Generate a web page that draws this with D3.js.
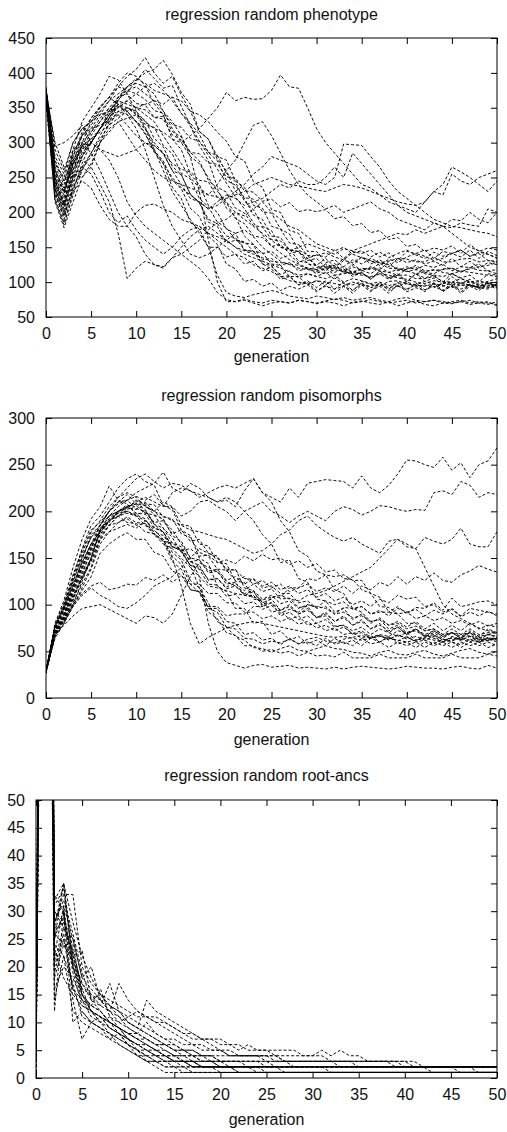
<!DOCTYPE html>
<html><head><meta charset="utf-8">
<script src="https://cdn.jsdelivr.net/npm/d3@7"></script>
<style>
body{margin:0;background:#fff}
svg{display:block}
text{font-family:"Liberation Sans",Arial,Helvetica,sans-serif;fill:#111}
</style>
</head><body>
<svg id="chart" width="507" height="1132"></svg>
<script>
// ---------- data ----------
const xTicks = [0,5,10,15,20,25,30,35,40,45,50];
const phenotypeTicks = [50,100,150,200,250,300,350,400,450];
const pisomorphTicks = [0,50,100,150,200,250,300];
const rootAncTicks = [0,5,10,15,20,25,30,35,40,45,50];

const phenotypeSeries = [
[375,228,190,240,280,300,320,340,362,372,388,405,392,378,382,352,325,302,282,262,242,222,205,185,168,152,142,132,126,120,118,126,121,131,128,136,131,124,133,128,136,141,137,131,134,141,146,137,143,140,134],
[360,262,230,270,295,300,290,275,250,215,195,180,170,160,150,140,130,120,105,85,75,72,74,70,66,70,72,70,74,72,69,72,70,66,71,73,70,68,72,66,70,73,68,66,70,69,72,68,70,72,66],
[378,245,215,260,300,330,350,365,380,395,405,422,400,385,395,368,345,316,305,276,260,230,220,196,190,166,164,146,144,126,124,116,127,113,122,117,112,121,114,110,119,121,114,112,119,120,115,119,122,124,128],
[374,220,185,230,270,300,320,340,365,380,390,400,405,418,398,372,355,316,305,280,275,245,236,210,206,180,176,156,154,138,138,142,136,132,142,145,136,143,135,141,146,139,134,143,137,141,146,137,141,131,130],
[370,280,255,300,320,330,345,330,340,350,345,330,320,315,305,300,310,320,335,350,372,360,365,362,363,375,397,380,378,350,320,300,285,270,255,240,235,225,215,210,205,200,215,230,240,265,258,250,240,230,245],
[373,300,265,270,290,300,320,340,355,360,350,340,330,310,290,270,250,235,225,240,260,275,300,325,330,310,285,260,240,225,215,205,210,200,205,210,215,205,200,190,185,180,175,185,180,190,188,200,190,185,200],
[377,240,205,250,290,315,335,350,340,325,310,300,290,270,250,235,225,215,205,210,220,230,240,255,265,280,275,270,265,255,245,240,250,298,297,296,280,265,245,230,220,210,200,190,185,180,178,175,172,170,165],
[365,215,178,215,250,270,300,330,355,345,330,320,300,285,260,240,220,215,205,215,225,220,210,215,220,230,240,235,245,240,240,250,265,250,285,270,255,240,225,210,200,195,190,185,180,170,160,150,145,140,135],
[375,255,230,270,275,265,240,215,170,105,120,130,125,122,135,140,150,160,175,185,190,200,195,205,215,200,190,180,175,165,155,150,145,150,140,135,130,128,125,120,115,118,112,110,108,112,105,100,102,98,95],
[374,270,250,290,300,285,260,230,200,180,165,140,125,120,135,150,165,175,180,170,160,150,140,135,130,125,120,115,110,112,108,105,110,100,105,102,98,100,95,98,100,96,94,98,95,92,96,95,92,90,98],
[372,235,200,230,245,235,210,190,180,180,200,210,212,205,200,190,185,180,170,160,150,140,135,125,120,115,108,102,100,98,102,100,98,95,100,96,94,98,92,95,98,94,96,92,98,100,95,97,93,92,95],
[376,250,225,290,330,350,370,395,390,370,345,322,296,284,260,254,226,214,190,184,166,164,146,144,132,134,124,128,116,120,112,120,110,112,114,112,106,112,104,110,110,105,105,108,101,100,105,101,98,101,105],
[380,265,240,285,310,320,325,330,345,350,340,320,290,260,230,210,190,170,150,110,85,80,78,82,85,88,85,80,78,76,80,78,75,78,74,76,78,74,72,76,78,74,72,74,70,72,74,70,72,70,68],
[375,235,200,245,280,310,330,350,365,375,380,370,360,345,330,310,280,230,160,100,72,72,76,72,70,74,72,70,74,72,70,73,76,74,70,72,75,72,70,72,74,70,72,74,72,70,72,74,70,68,72],
[377,260,235,275,300,315,330,345,360,380,392,385,375,370,365,360,345,340,330,315,302,280,274,244,236,204,200,174,170,144,144,128,132,122,132,126,134,128,130,134,133,129,129,136,129,129,133,134,129,131,128],
[373,275,245,280,310,325,345,360,370,380,385,380,370,345,320,300,280,270,250,230,215,200,190,180,170,160,150,145,150,155,150,145,140,148,145,150,155,160,165,170,168,175,170,175,180,178,185,182,180,205,200],
[355,232,208,255,285,300,320,335,355,350,342,326,322,296,284,256,248,220,208,186,178,160,158,144,142,126,124,108,108,96,102,96,106,98,96,101,97,94,101,102,97,96,101,97,94,99,100,95,94,99,100],
[372,245,215,260,295,320,340,360,380,375,370,362,346,342,326,322,306,302,286,282,256,244,216,204,180,174,150,148,130,128,116,120,120,122,113,120,118,127,120,119,118,124,116,117,118,120,114,121,117,116,112],
[376,295,300,310,325,300,290,285,280,285,290,300,295,285,270,262,258,246,244,221,214,191,184,166,164,151,154,141,144,134,139,136,146,134,144,141,146,136,142,131,144,141,146,134,144,141,136,146,134,144,138],
[374,255,228,268,295,305,315,325,335,345,350,355,360,355,365,342,324,296,274,236,229,206,199,181,179,161,159,146,144,131,134,121,124,114,126,116,122,118,129,116,122,118,124,121,126,116,122,121,126,116,118],
[368,225,195,235,265,285,305,325,345,340,330,312,288,274,246,234,206,194,166,154,126,119,101,104,94,99,88,94,90,96,86,96,84,94,88,99,88,94,84,96,86,92,88,99,86,96,84,94,88,99,92],
[373,250,220,280,315,335,350,365,385,400,395,382,356,340,305,290,255,240,210,200,176,170,146,144,126,124,108,109,96,99,88,94,90,94,84,96,86,99,88,94,90,96,86,99,88,94,90,96,92,98,95],
[376,258,235,262,280,300,320,345,365,370,356,354,336,334,311,304,286,284,271,269,251,249,231,229,216,219,208,214,201,204,201,204,191,194,181,184,171,174,161,164,151,154,144,149,146,152,141,154,144,149,146],
[374,240,210,255,250,265,300,320,330,310,290,275,260,250,245,240,235,230,225,222,220,225,230,240,245,250,245,240,238,235,232,230,235,240,238,235,230,225,220,215,212,210,215,230,225,255,245,240,250,255,260],
[375,270,245,275,295,305,320,335,352,345,330,314,286,270,236,220,186,176,150,150,136,140,126,130,116,122,111,116,106,112,108,114,104,116,111,114,104,116,106,112,101,112,106,110,100,112,106,110,100,112,110],
[372,248,212,270,310,335,352,365,355,340,320,290,250,210,180,160,140,135,140,150,160,170,175,165,150,140,130,125,120,118,115,112,118,115,112,110,108,112,110,106,104,100,98,102,100,96,98,100,96,94,96],
[377,230,195,235,262,280,300,315,330,335,340,332,306,294,266,254,226,214,186,180,156,160,156,154,141,144,134,139,128,134,124,134,122,134,124,136,126,132,122,134,128,132,126,130,124,134,122,130,120,128,125],
[362,218,182,225,260,285,310,335,360,355,350,347,336,338,316,308,286,274,246,234,206,194,166,154,126,119,104,108,96,102,92,102,90,100,88,98,92,96,90,100,88,99,89,94,88,98,86,96,91,96,90],
[370,245,210,250,265,255,230,200,185,195,175,160,150,140,150,165,175,180,170,165,160,150,145,140,135,130,128,126,124,120,118,122,120,118,115,118,120,116,114,118,116,112,115,118,114,112,116,114,112,110,108],
[376,290,260,300,320,330,340,345,350,360,370,380,385,375,360,342,328,312,286,274,246,239,221,219,201,199,176,169,146,139,121,124,114,119,108,114,104,116,106,110,100,112,101,106,96,108,98,104,94,100,94]
];

const pisomorphSeries = [
[28,66,88,118,148,175,185,200,215,225,235,240,232,225,230,228,222,215,220,225,228,225,230,235,220,215,210,225,215,230,232,234,233,232,225,238,225,220,228,240,255,254,250,247,258,244,252,236,250,254,268],
[28,74,100,128,155,178,190,205,215,220,215,205,200,210,205,195,200,210,212,205,200,190,200,205,210,200,195,188,195,200,195,190,200,205,202,196,200,206,205,202,200,202,201,220,222,218,232,228,215,220,218],
[30,64,80,100,125,150,180,195,200,205,208,210,200,195,190,185,180,178,175,172,170,165,160,155,158,165,175,180,190,195,185,178,172,168,172,165,160,155,168,170,162,160,172,168,165,170,182,165,162,162,178],
[27,78,96,122,145,165,178,188,200,203,212,208,207,194,192,176,172,156,152,138,137,126,130,122,126,118,122,114,118,122,114,118,114,120,112,120,116,124,120,130,122,130,126,134,126,124,132,136,142,138,135],
[28,70,86,108,132,158,175,190,200,205,208,206,200,190,180,165,150,130,80,50,38,35,32,35,36,33,34,35,32,33,32,31,33,31,33,34,33,32,31,32,34,33,32,32,31,33,34,32,31,35,32],
[26,68,78,88,96,98,100,95,90,85,80,88,86,80,90,110,130,145,140,135,125,120,110,110,100,102,94,98,90,94,86,90,82,86,78,82,74,78,72,76,68,74,68,72,66,70,64,72,66,68,65],
[28,72,82,98,110,118,110,105,98,96,102,110,120,125,130,140,150,160,155,150,138,137,128,127,118,120,112,112,102,104,96,98,90,92,86,88,82,84,78,80,74,77,72,74,68,74,68,70,66,74,70],
[28,80,105,140,170,192,205,227,212,208,196,201,188,190,176,180,168,170,155,152,136,138,118,115,98,102,88,92,84,88,80,84,76,78,72,76,68,74,70,66,70,62,67,64,60,66,63,60,65,62,64],
[28,76,98,130,160,185,195,210,225,235,240,232,228,206,204,186,184,165,163,145,144,125,124,106,104,92,94,84,88,78,80,72,75,68,70,64,67,60,65,61,66,60,62,58,63,60,57,63,60,64,60],
[29,69,84,105,130,150,180,195,205,212,220,225,230,242,225,220,230,225,215,210,215,210,200,190,175,165,145,148,128,124,106,104,92,96,84,90,80,86,78,82,76,82,74,80,72,78,72,80,74,78,76],
[28,75,95,120,142,165,185,195,200,205,210,215,210,205,220,225,222,218,215,210,212,205,222,235,220,210,190,178,158,152,136,132,116,112,96,92,82,84,74,78,70,74,66,72,66,70,64,70,62,68,66],
[27,71,90,110,128,150,178,190,198,200,195,185,175,165,160,150,140,130,120,118,115,112,110,108,105,108,110,106,104,110,112,115,120,125,130,135,140,150,160,170,165,160,140,120,100,90,85,80,75,72,70],
[28,73,92,115,140,162,180,190,195,188,187,178,176,168,166,158,160,152,153,145,148,144,152,147,154,148,150,143,147,140,144,135,137,128,127,116,112,98,97,90,92,85,88,83,86,80,83,78,82,77,80],
[28,67,82,102,122,140,170,185,195,202,206,198,196,182,172,156,142,118,102,82,76,66,62,54,53,49,53,56,51,50,53,56,53,52,49,48,45,49,51,47,46,49,51,47,45,48,51,53,49,47,50],
[30,77,99,125,150,172,185,200,210,218,208,202,186,178,156,148,126,118,96,92,76,74,64,63,58,61,59,63,58,63,65,61,59,63,65,67,64,67,63,67,65,61,65,67,63,61,65,67,63,61,64],
[28,70,88,112,135,155,175,185,188,192,185,187,178,174,162,158,142,140,127,128,119,123,115,122,114,117,106,107,97,98,86,88,77,78,68,70,64,67,62,68,63,66,62,66,60,65,62,66,60,65,62],
[28,68,85,106,128,148,172,185,195,200,196,192,176,168,146,138,116,114,98,98,88,90,90,98,98,108,108,118,118,128,126,132,130,132,126,126,112,108,92,90,80,80,72,74,68,70,68,74,68,70,70],
[28,74,94,118,140,160,180,192,200,207,198,197,183,178,162,158,142,138,122,121,109,111,101,103,95,99,91,95,92,100,98,96,90,97,96,98,90,92,92,98,90,97,96,102,94,107,98,100,103,104,100],
[27,79,102,132,158,180,188,200,208,212,203,200,186,182,166,162,146,142,126,128,117,120,112,115,106,110,101,104,96,100,97,104,100,103,95,98,90,94,88,96,92,95,88,94,90,95,87,92,88,93,88],
[28,72,90,114,138,160,185,200,210,212,216,212,218,206,202,180,174,150,144,120,114,96,96,80,82,68,72,62,66,58,62,56,64,58,62,56,64,60,66,58,60,54,60,56,60,54,60,56,60,54,58],
[28,66,80,98,118,138,165,178,188,194,188,187,175,170,152,143,122,113,92,85,70,67,56,56,50,52,48,50,45,49,45,46,44,49,43,43,43,47,43,43,43,47,43,43,43,47,43,43,43,47,45],
[28,72,86,100,112,120,124,116,118,122,121,129,126,132,124,131,122,122,112,112,102,102,92,92,85,88,82,86,79,82,75,78,72,76,69,72,65,68,66,72,70,72,66,68,62,64,62,66,62,64,64],
[29,75,96,120,145,165,178,190,198,204,202,207,196,192,174,168,150,148,134,136,122,124,110,114,102,106,94,100,90,96,86,92,82,88,78,84,74,80,70,76,68,74,66,70,64,70,66,70,64,68,70],
[28,69,84,100,115,130,155,165,172,177,170,170,156,152,136,132,116,114,96,96,82,80,68,70,62,64,57,64,58,60,56,64,58,60,56,64,58,60,54,60,56,60,54,60,56,60,54,60,56,60,56],
[28,76,97,126,152,172,182,190,195,198,195,190,180,170,150,120,80,58,65,70,75,78,80,82,80,78,76,74,72,70,68,66,65,66,64,62,64,66,64,62,60,62,64,62,60,62,64,62,60,62,64],
[28,71,88,108,128,146,170,178,182,186,182,190,182,178,162,160,146,148,136,138,126,130,122,128,120,124,116,120,112,116,108,112,104,108,100,104,98,106,102,110,106,108,98,100,92,96,88,96,94,92,90]
];

const rootAncSeries = [
[2,220,25,35,22,15,13,12,10,9,8,7,6,5,5,4,4,3,3,3,2,2,2,2,2,2,2,2,2,2,2,2,2,2,2,2,2,2,2,2,2,2,2,2,2,2,2,2,2,2,2],
[1,180,12,30,20,14,12,11,9,8,7,6,5,4,4,3,3,2,2,2,1,1,1,1,1,1,1,1,1,1,1,1,1,1,1,1,1,1,1,1,1,1,1,1,1,1,1,1,1,1,1],
[4,260,28,33,33,20,17,15,13,12,11,12,11,11,10,9,8,7,7,7,7,6,5,6,5,5,5,5,5,4,4,5,4,5,4,4,3,3,3,3,2,2,2,2,2,2,2,2,1,1,1],
[3,240,30,28,25,18,20,14,12,17,14,12,11,10,9,8,7,6,6,5,5,5,4,4,4,4,4,3,3,3,3,3,3,3,3,3,3,3,3,2,2,2,2,2,2,2,2,2,2,2,2],
[5,200,20,26,16,12,10,11,9,8,6,5,4,3,3,2,2,2,2,2,2,2,2,2,2,1,1,1,1,1,1,1,1,1,1,1,1,1,1,1,1,1,1,1,1,1,1,1,1,1,1],
[2,230,33,30,10,12,10,9,8,7,6,5,5,4,3,3,2,2,2,2,2,2,2,2,2,2,2,2,2,2,2,2,2,2,2,2,2,2,2,2,2,2,2,2,2,2,2,2,2,2,2],
[6,190,18,24,22,23,14,12,10,9,8,7,7,6,6,5,5,5,4,4,4,4,4,4,4,4,3,3,3,3,3,3,3,2,2,2,2,2,2,2,2,2,2,2,2,2,2,2,2,2,2],
[1,210,22,31,14,7,10,9,8,6,5,4,3,3,2,2,1,1,1,1,1,1,1,1,1,1,1,1,1,1,1,1,1,1,1,1,1,1,1,1,1,1,1,1,1,1,1,1,1,1,1],
[3,250,27,35,20,16,15,13,17,12,10,9,8,7,6,6,5,5,4,4,3,3,3,3,3,3,3,3,2,2,2,2,2,2,2,2,2,2,2,2,2,2,2,2,2,2,2,2,2,2,2],
[2,170,16,20,18,14,11,10,8,7,6,5,4,4,3,3,3,2,2,2,2,2,1,1,1,1,1,1,1,1,1,1,1,1,1,1,1,1,1,1,1,1,1,1,1,1,1,1,1,1,1],
[4,260,30,27,24,15,13,16,11,10,9,8,10,8,7,6,5,4,4,3,3,3,3,2,2,2,2,2,2,2,2,2,1,1,1,1,1,1,1,1,1,1,1,1,1,1,1,1,1,1,1],
[1,200,24,22,17,11,10,9,7,8,6,4,4,3,2,2,2,1,1,1,1,1,1,1,1,1,1,1,1,1,1,1,1,1,1,1,1,1,1,1,1,1,1,1,1,1,1,1,1,1,1],
[5,240,28,32,26,19,14,13,12,11,10,9,14,12,11,10,9,8,7,6,5,4,4,4,4,3,3,3,3,3,3,3,3,3,3,3,3,3,3,3,3,2,2,2,2,2,2,2,2,2,2],
[2,220,26,29,19,13,12,11,10,9,8,7,6,5,4,4,3,3,3,3,2,2,2,2,2,2,2,2,2,2,2,2,2,2,2,2,2,2,2,2,2,2,2,1,1,1,1,1,1,1,1],
[3,190,21,27,23,16,12,10,11,9,7,6,5,5,4,4,3,3,2,2,2,2,2,2,1,1,1,1,1,1,1,1,1,1,1,1,1,1,1,1,1,1,1,1,1,1,1,1,1,1,1],
[6,230,31,34,21,17,15,14,12,10,11,10,9,8,7,7,6,6,5,5,5,4,4,4,4,4,4,3,3,3,3,3,3,3,3,2,2,2,2,2,2,2,2,2,2,2,2,2,2,2,2],
[2,210,19,25,16,14,13,12,10,9,7,6,6,5,4,3,3,2,2,2,2,2,2,2,2,2,2,2,2,2,2,2,2,2,2,2,2,2,2,2,2,2,2,2,2,2,2,2,2,2,2],
[4,180,23,18,15,13,12,11,10,8,7,6,5,4,4,3,3,3,2,2,2,2,2,2,2,2,2,1,1,1,1,1,1,1,1,1,1,1,1,1,1,1,1,1,1,1,1,1,1,1,1],
[1,240,29,31,25,18,16,14,13,12,10,9,8,7,6,5,5,4,4,4,3,3,3,3,3,3,2,2,2,2,2,2,2,2,2,2,2,2,2,2,2,2,2,2,2,2,2,2,2,2,2],
[3,220,27,28,22,17,14,15,13,11,9,8,7,6,5,4,4,4,3,3,3,3,3,3,3,2,2,2,2,2,2,2,2,2,2,2,2,2,2,2,2,2,2,2,2,2,1,1,1,1,1],
[2,200,25,30,20,15,12,10,9,8,7,5,3,3,3,3,3,3,2,2,2,2,1,1,1,1,1,1,1,1,1,1,1,1,1,1,1,1,1,1,1,1,1,1,1,1,1,1,1,1,1],
[5,260,32,35,28,22,18,15,14,13,12,11,11,10,10,9,8,8,7,7,6,6,6,5,5,5,4,4,4,4,4,4,3,3,3,3,3,3,3,3,3,3,2,2,2,2,2,2,2,2,2],
[1,170,14,22,12,10,9,8,7,6,5,4,3,2,1,1,1,1,1,1,1,1,1,1,1,1,1,1,1,1,1,1,1,1,1,1,1,1,1,1,1,1,1,1,1,1,1,1,1,1,1],
[3,210,26,24,21,15,12,11,10,9,8,8,7,6,6,5,4,4,3,3,3,2,2,2,2,2,2,2,2,2,2,2,2,2,2,2,2,2,2,2,2,2,2,2,2,2,2,2,2,2,2]
];

// ---------- layout ----------
const panels = [
  {title:"regression random phenotype", series:phenotypeSeries, yDomain:[50,450], yTicks:phenotypeTicks,
   left:46, right:497, top:38, bottom:317, titleY:20, labelY:362},
  {title:"regression random pisomorphs", series:pisomorphSeries, yDomain:[0,300], yTicks:pisomorphTicks,
   left:46, right:497, top:418, bottom:698, titleY:401, labelY:745},
  {title:"regression random root-ancs", series:rootAncSeries, yDomain:[0,50], yTicks:rootAncTicks,
   left:36, right:497, top:800, bottom:1078, titleY:781, labelY:1125}
];

const svg = d3.select("#chart");
svg.append("rect").attr("width",507).attr("height",1132).attr("fill","#fff");

panels.forEach((p, k) => {
  const x = d3.scaleLinear().domain([0,50]).range([p.left, p.right]);
  const y = d3.scaleLinear().domain(p.yDomain).range([p.bottom, p.top]);
  const g = svg.append("g");
  const clipId = "clip" + k;
  svg.append("clipPath").attr("id", clipId).append("rect")
    .attr("x", p.left).attr("y", p.top).attr("width", p.right - p.left).attr("height", p.bottom - p.top);

  const line = d3.line().x((d,i) => x(i)).y(d => y(d));
  g.append("g").attr("clip-path", `url(#${clipId})`)
    .selectAll("path").data(p.series).join("path")
    .attr("d", line)
    .attr("fill", "none")
    .attr("stroke", "#000")
    .attr("stroke-width", 0.95)
    .attr("stroke-dasharray", "3,2");

  const fs = "16px";
  const bottomAxis = d3.axisBottom(x).tickValues(xTicks).tickSize(-6).tickSizeOuter(0).tickPadding(11);
  const topAxis = d3.axisTop(x).tickValues(xTicks).tickSize(-6).tickSizeOuter(0).tickFormat("");
  const leftAxis = d3.axisLeft(y).tickValues(p.yTicks).tickSize(-6).tickSizeOuter(0).tickPadding(11);
  const rightAxis = d3.axisRight(y).tickValues(p.yTicks).tickSize(-6).tickSizeOuter(0).tickFormat("");

  const styleAxis = a => {
    a.select(".domain").remove();
    a.selectAll("line").attr("stroke","#000").attr("stroke-width",1);
    a.selectAll("text").attr("font-size", fs).attr("fill","#111")
      .attr("font-family","'Liberation Sans',Arial,Helvetica,sans-serif");
  };
  g.append("g").attr("transform", `translate(0,${p.bottom})`).call(bottomAxis).call(styleAxis);
  g.append("g").attr("transform", `translate(0,${p.top})`).call(topAxis).call(styleAxis);
  g.append("g").attr("transform", `translate(${p.left},0)`).call(leftAxis).call(styleAxis);
  g.append("g").attr("transform", `translate(${p.right},0)`).call(rightAxis).call(styleAxis);

  g.append("rect").attr("x", p.left).attr("y", p.top)
    .attr("width", p.right - p.left).attr("height", p.bottom - p.top)
    .attr("fill", "none").attr("stroke", "#000").attr("stroke-width", 1);

  const cx = (p.left + p.right) / 2;
  g.append("text").attr("x", cx).attr("y", p.titleY).attr("text-anchor","middle")
    .attr("font-size","16px").text(p.title);
  g.append("text").attr("x", cx).attr("y", p.labelY).attr("text-anchor","middle")
    .attr("font-size","16px").text("generation");
});
</script>
</body></html>
